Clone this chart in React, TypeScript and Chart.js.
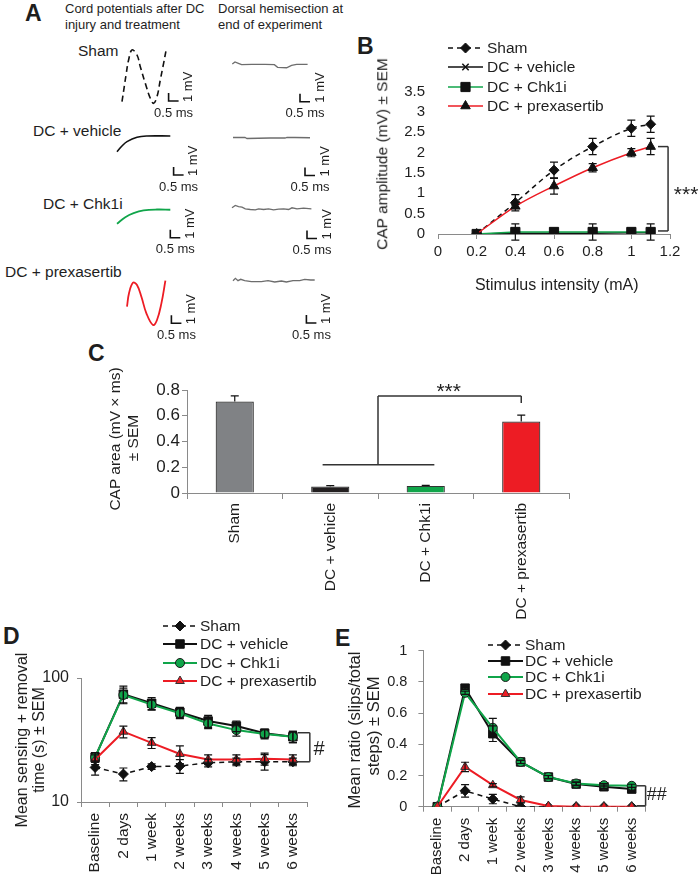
import React, { useEffect, useRef } from 'react';
import { Chart, registerables } from 'chart.js';
import { drawPoint } from 'chart.js/helpers';
Chart.register(...registerables);

const FONT = 'Arial, "Liberation Sans", Helvetica, sans-serif';
const GREEN = '#10a54a';
const RED = '#ed1c24';
const AXIS = '#8a8a8a';
const INK = '#1e1e1e';

// ---------- Panel A: cord potential traces (time in ms, potential in mV)
const shamT = [0, 0.215, 0.33, 0.5, 0.75, 0.915, 1.165, 1.415, 1.58, 1.75, 1.915, 2.08, 2.2];
const shamV = [0.16, 3.71, 5.38, 6.63, 6.0, 4.54, 2.46, 0.59, -0.04, 0.79, 2.88, 4.96, 6.54];
const vehicleT = [0, 0.25, 0.5, 1.0, 1.5, 2.665];
const vehicleV = [0.04, 0.75, 1.29, 1.84, 2.0, 2.0];
const chk1iT = [0, 0.415, 0.83, 1.33, 2.0, 2.665];
const chk1iV = [0.03, 0.85, 1.35, 1.69, 1.81, 1.78];
const prexT = [0, 0.1, 0.3, 0.5, 0.72, 0.97, 1.3, 1.5, 1.72, 1.92];
const prexV = [2.29, 3.96, 5.29, 5.0, 3.54, 1.46, 0, 0.63, 2.71, 5.54];
// dorsal hemisection traces
const hemiShamT = [0.015, 0.15, 0.32, 0.48, 0.98, 1.65, 2.12, 2.28, 2.73, 2.98, 3.23, 3.78];
const hemiShamV = [0.125, 0.375, 0.21, 0.04, 0.09, 0.09, 0.04, -0.29, -0.34, -0.04, 0.09, 0.09];
const hemiVehicleT = [0, 0.6, 0.7, 1.85, 2.6, 2.7, 3.1, 3.85];
const hemiVehicleV = [0.06, 0.06, -0.06, 0, 0, 0.09, 0.06, 0.03];
const hemiChk1iT = [0, 0.165, 0.33, 0.5, 0.665, 0.915, 1.165, 1.33, 1.58, 1.83, 2.08, 2.33, 2.58, 2.83, 3.0, 3.25, 3.58, 3.97];
const hemiChk1iV = [0.15, 0.44, 0.31, 0.225, 0.025, -0.06, -0.1, 0.025, -0.06, 0.025, -0.1, -0.025, 0.025, -0.06, 0.15, 0.025, 0.1, 0.025];
const hemiPrexT = [0, 0.12, 0.25, 0.385, 0.585, 0.92, 1.42, 1.75, 2.085, 2.42, 2.67, 3.0, 3.335, 3.585, 3.885, 4.085];
const hemiPrexV = [0.04, 0.34, 0.04, 0.21, 0.04, -0.09, -0.09, 0.04, -0.125, 0, -0.125, 0.04, 0.04, 0.21, 0.125, 0.125];

// ---------- Panel B: CAP amplitude vs stimulus intensity
const stimulus = [0.2, 0.4, 0.6, 0.8, 1.0, 1.1];
const bSham = [0, 0.77, 1.57, 2.15, 2.6, 2.7];
const bShamErr = [0, 0.2, 0.2, 0.2, 0.2, 0.2];
const bVehicle = [0, 0.02, 0.02, 0.02, 0.03, 0.03];
const bVehicleErr = [0, 0, 0, 0, 0, 0];
const bChk1i = [0, 0.05, 0.05, 0.05, 0.05, 0.05];
const bChk1iErr = [0, 0.2, 0.02, 0.2, 0.02, 0.2];
const bPrex = [0, 0.68, 1.18, 1.63, 2.0, 2.15];
const bPrexErr = [0, 0.05, 0.2, 0.1, 0.1, 0.2];

// ---------- Panel C: CAP area
const groups = ['Sham', 'DC + vehicle', 'DC + Chk1i', 'DC + prexasertib'];
const capArea = [0.71, 0.05, 0.055, 0.555];
const capAreaErr = [0.045, 0.008, 0.004, 0.05];
const capColors = ['#808285', '#231f20', GREEN, RED];

// ---------- Panels D & E: time course
const timepoints = ['Baseline', '2 days', '1 week', '2 weeks', '3 weeks', '4 weeks', '5 weeks', '6 weeks'];
const dSham = [19, 16.8, 19.3, 19.5, 20.7, 21.1, 21.1, 21.1];
const dShamErr = [2.5, 2, 1, 2.5, 1.5, 1.5, 3, 1.5];
const dVehicle = [23, 74, 62.5, 53, 45, 41, 35.8, 33.6];
const dVehicleErr = [2, 12, 7, 5, 5, 4, 3, 3.5];
const dChk1i = [23, 73, 61, 52, 43, 38, 35.3, 33.6];
const dChk1iErr = [2, 10, 6, 5, 4, 4, 3, 3.5];
const dPrex = [22, 36.9, 30, 24.4, 22, 22, 22.3, 22];
const dPrexErr = [2, 4, 3, 4, 2, 2, 2.5, 2];

const eSham = [0, 0.102, 0.049, 0, 0, 0, 0, 0];
const eShamErr = [0, 0.04, 0.03, 0, 0, 0, 0, 0];
const eVehicle = [0, 0.76, 0.468, 0.287, 0.19, 0.145, 0.128, 0.113];
const eVehicleErr = [0, 0.01, 0.05, 0.01, 0.01, 0.01, 0.01, 0.01];
const eChk1i = [0, 0.73, 0.506, 0.287, 0.19, 0.149, 0.138, 0.134];
const eChk1iErr = [0, 0.01, 0.06, 0.01, 0.01, 0.01, 0.01, 0.01];
const ePrex = [0, 0.255, 0.138, 0.043, 0.004, 0, 0, 0];
const ePrexErr = [0, 0.03, 0.01, 0.02, 0, 0, 0, 0];

const fmt = (v: any) => String(Math.round(Number(v) * 100) / 100);

// ---------------- plugins
const errorBarPlugin = (capHalf: number) => ({
  id: 'errbars',
  afterDatasetsDraw(chart: any) {
    const ctx = chart.ctx;
    const ys = chart.scales.y;
    ctx.save();
    ctx.strokeStyle = '#111';
    ctx.lineWidth = 1.2;
    chart.data.datasets.forEach((ds: any, di: number) => {
      if (!ds.errors) return;
      const meta = chart.getDatasetMeta(di);
      meta.data.forEach((el: any, i: number) => {
        const e = ds.errors[i];
        if (!e) return;
        const raw = ds.data[i];
        const v = typeof raw === 'number' ? raw : raw.y;
        const x = el.x;
        const yTop = ys.getPixelForValue(v + e);
        const yBot = ds.upperOnly ? ys.getPixelForValue(v) : ys.getPixelForValue(v - e);
        ctx.beginPath();
        ctx.moveTo(x, yTop);
        ctx.lineTo(x, yBot);
        ctx.moveTo(x - capHalf, yTop);
        ctx.lineTo(x + capHalf, yTop);
        if (!ds.upperOnly) {
          ctx.moveTo(x - capHalf, yBot);
          ctx.lineTo(x + capHalf, yBot);
        }
        ctx.stroke();
      });
    });
    ctx.restore();
  },
});

const legendPlugin = (x1: number, x2: number, textX: number, ys: number[], size: number) => ({
  id: 'customLegend',
  afterDraw(chart: any) {
    const ctx = chart.ctx;
    ctx.save();
    chart.data.datasets.forEach((ds: any, i: number) => {
      const y = ys[i];
      ctx.beginPath();
      ctx.setLineDash(ds.borderDash || []);
      ctx.strokeStyle = ds.borderColor;
      ctx.lineWidth = ds.borderWidth;
      ctx.moveTo(x1, y);
      ctx.lineTo(x2, y);
      ctx.stroke();
      ctx.setLineDash([]);
      ctx.fillStyle = ds.pointBackgroundColor;
      ctx.strokeStyle = ds.pointBorderColor;
      ctx.lineWidth = ds.pointBorderWidth ?? 1;
      drawPoint(ctx, { pointStyle: ds.pointStyle, radius: ds.pointRadius, borderWidth: ds.pointBorderWidth ?? 1, rotation: 0 } as any, (x1 + x2) / 2, y);
      ctx.fillStyle = INK;
      ctx.font = `${size}px ${FONT}`;
      ctx.textAlign = 'left';
      ctx.textBaseline = 'middle';
      ctx.fillText(ds.label, textX, y + 1);
    });
    ctx.restore();
  },
});

type AText = { x: number; y: number; text: string; size: number; dy?: number };
const annotPlugin = (lines: number[][], texts: AText[]) => ({
  id: 'annot',
  afterDraw(chart: any) {
    const xs = chart.scales.x;
    const ys = chart.scales.y;
    const ctx = chart.ctx;
    ctx.save();
    ctx.strokeStyle = '#333';
    ctx.lineWidth = 1.5;
    lines.forEach(([a, b, c, d]) => {
      ctx.beginPath();
      ctx.moveTo(xs.getPixelForValue(a), ys.getPixelForValue(b));
      ctx.lineTo(xs.getPixelForValue(c), ys.getPixelForValue(d));
      ctx.stroke();
    });
    texts.forEach((t) => {
      ctx.fillStyle = '#222';
      ctx.font = `${t.size}px ${FONT}`;
      ctx.textAlign = 'center';
      ctx.textBaseline = 'middle';
      ctx.fillText(t.text, xs.getPixelForValue(t.x), ys.getPixelForValue(t.y) + (t.dy || 0));
    });
    ctx.restore();
  },
});

const scaleBarPlugin = (tb: number, vb: number) => ({
  id: 'scalebar',
  afterDraw(chart: any) {
    const xs = chart.scales.x;
    const ys = chart.scales.y;
    const ctx = chart.ctx;
    const px0 = xs.getPixelForValue(tb);
    const px1 = xs.getPixelForValue(tb + 0.5);
    const py0 = ys.getPixelForValue(vb);
    const py1 = ys.getPixelForValue(vb + 1);
    ctx.save();
    ctx.strokeStyle = '#111';
    ctx.lineWidth = 1.6;
    ctx.beginPath();
    ctx.moveTo(px0, py1);
    ctx.lineTo(px0, py0);
    ctx.lineTo(px1, py0);
    ctx.stroke();
    ctx.fillStyle = INK;
    ctx.font = `13px ${FONT}`;
    ctx.textAlign = 'center';
    ctx.textBaseline = 'middle';
    ctx.fillText('0.5 ms', px0 + 5, py0 + 12);
    ctx.translate(px1 + 10, py0 + 1);
    ctx.rotate(-Math.PI / 2);
    ctx.textAlign = 'left';
    ctx.fillText('1 mV', 0, 0);
    ctx.restore();
  },
});

const baseOpts = {
  responsive: false,
  animation: false,
  devicePixelRatio: 1,
  events: [],
  plugins: { legend: { display: false }, tooltip: { enabled: false } },
};

// ---------------- Panel A specs (layout: origin & scale bar corner in page px)
const PX_MS = 20;
const PX_MV = 8;
type TraceSpec = { ox: number; oy: number; t: number[]; v: number[]; color: string; width: number; dash?: number[]; tension: number; bx: number; by: number };
const traceSpecs: TraceSpec[] = [
  { ox: 121.7, oy: 103, t: shamT, v: shamV, color: '#111', width: 1.6, dash: [6, 4], tension: 0.4, bx: 168.3, by: 101 },
  { ox: 116.7, oy: 152, t: vehicleT, v: vehicleV, color: '#111', width: 1.6, tension: 0.4, bx: 173.3, by: 175 },
  { ox: 116.7, oy: 223.5, t: chk1iT, v: chk1iV, color: GREEN, width: 1.8, tension: 0.4, bx: 170, by: 237.3 },
  { ox: 127.3, oy: 325, t: prexT, v: prexV, color: RED, width: 1.8, tension: 0.4, bx: 171.7, by: 323.3 },
  { ox: 232, oy: 65, t: hemiShamT, v: hemiShamV, color: '#6d6d6d', width: 1.3, tension: 0, bx: 300, by: 101.7 },
  { ox: 233, oy: 137.5, t: hemiVehicleT, v: hemiVehicleV, color: '#6d6d6d', width: 1.3, tension: 0, bx: 305, by: 175 },
  { ox: 231.7, oy: 208.5, t: hemiChk1iT, v: hemiChk1iV, color: '#6d6d6d', width: 1.3, tension: 0, bx: 306.7, by: 238 },
  { ox: 233.3, oy: 281, t: hemiPrexT, v: hemiPrexV, color: '#6d6d6d', width: 1.3, tension: 0, bx: 306.7, by: 323 },
];

function ChartBox({ left, top, width, height, make }: { left: number; top: number; width: number; height: number; make: () => any }) {
  const ref = useRef<HTMLCanvasElement>(null);
  useEffect(() => {
    const c = new Chart(ref.current as HTMLCanvasElement, make());
    return () => c.destroy();
  }, []);
  return <canvas ref={ref} width={width} height={height} style={{ position: 'absolute', left, top, width, height }} />;
}

function TraceChart({ spec }: { spec: TraceSpec }) {
  const W = 130, H = 125, L = 12, TOPV = 60;
  const make = () => ({
    type: 'line',
    data: {
      datasets: [
        {
          data: spec.t.map((x, i) => ({ x, y: spec.v[i] })),
          borderColor: spec.color,
          borderWidth: spec.width,
          borderDash: spec.dash || [],
          pointRadius: 0,
          tension: spec.tension,
          fill: false,
          clip: false,
        },
      ],
    },
    options: {
      ...baseOpts,
      layout: { padding: 0 },
      scales: {
        x: { type: 'linear', display: false, min: -L / PX_MS, max: (W - L) / PX_MS },
        y: { type: 'linear', display: false, min: -(H - TOPV) / PX_MV, max: TOPV / PX_MV },
      },
    },
    plugins: [scaleBarPlugin((spec.bx - spec.ox) / PX_MS, (spec.oy - spec.by) / PX_MV)],
  });
  return <ChartBox left={spec.ox - L} top={spec.oy - TOPV} width={W} height={H} make={make} />;
}

// ---------------- Panel B
const makeB = () => {
  const pts = (arr: number[]) => stimulus.map((x, i) => ({ x, y: arr[i] }));
  return {
    type: 'line',
    data: {
      datasets: [
        { label: 'Sham', data: pts(bSham), errors: bShamErr, borderColor: '#111', borderDash: [5, 4], borderWidth: 1.5, pointStyle: 'rectRot', pointRadius: 5, pointBackgroundColor: '#111', pointBorderColor: '#111', pointBorderWidth: 1, cubicInterpolationMode: 'monotone', order: 2 },
        { label: 'DC + vehicle', data: pts(bVehicle), errors: bVehicleErr, borderColor: '#111', borderWidth: 1.5, pointStyle: 'crossRot', pointRadius: 4.5, pointBackgroundColor: '#111', pointBorderColor: '#111', pointBorderWidth: 1.5, order: 4 },
        { label: 'DC + Chk1i', data: pts(bChk1i), errors: bChk1iErr, borderColor: GREEN, borderWidth: 1.5, pointStyle: 'rect', pointRadius: 6.5, pointBackgroundColor: '#111', pointBorderColor: '#111', pointBorderWidth: 1, order: 3 },
        { label: 'DC + prexasertib', data: pts(bPrex), errors: bPrexErr, borderColor: RED, borderWidth: 1.5, pointStyle: 'triangle', pointRadius: 5.5, pointBackgroundColor: '#111', pointBorderColor: '#111', pointBorderWidth: 1, cubicInterpolationMode: 'monotone', order: 1 },
      ],
    },
    options: {
      ...baseOpts,
      layout: { padding: { left: 0, right: 30, top: 61.7, bottom: 0 } },
      scales: {
        x: {
          type: 'linear', min: 0, max: 1.2,
          ticks: { stepSize: 0.2, autoSkip: false, callback: fmt, font: { family: FONT, size: 15 }, color: INK, padding: 4 },
          grid: { drawOnChartArea: false, drawTicks: true, tickLength: 5, color: AXIS },
          border: { color: AXIS, width: 1 },
          afterFit: (s: any) => { s.height = 66; },
        },
        y: {
          min: 0, max: 3.5,
          ticks: { stepSize: 0.5, autoSkip: false, callback: fmt, font: { family: FONT, size: 15 }, color: INK, padding: 13 },
          grid: { display: false, drawTicks: false },
          border: { display: false },
          afterFit: (s: any) => { s.width = 88; },
        },
      },
    },
    plugins: [
      errorBarPlugin(4),
      legendPlugin(98, 133, 137, [18, 37, 57, 76], 15.5),
      annotPlugin(
        [[1.19, 2.15, 1.19, 0.075], [1.138, 2.15, 1.19, 2.15], [1.138, 0.075, 1.19, 0.075]],
        [{ x: 1.283, y: 1.08, text: '***', size: 21, dy: 5 }]
      ),
    ],
  };
};

// ---------------- Panel C
const makeC = () => ({
  type: 'bar',
  data: {
    labels: groups,
    datasets: [
      { data: capArea, errors: capAreaErr, upperOnly: true, backgroundColor: capColors, borderColor: '#333', borderWidth: 1.2, barPercentage: 0.4, categoryPercentage: 1 },
    ],
  },
  options: {
    ...baseOpts,
    layout: { padding: { left: 0, right: 31, top: 50, bottom: 0 } },
    scales: {
      x: {
        offset: true,
        ticks: { minRotation: 90, maxRotation: 90, autoSkip: false, font: { family: FONT, size: 15.5 }, color: INK, padding: 4 },
        grid: { offset: true, drawOnChartArea: false, tickLength: 6, color: AXIS },
        border: { color: AXIS },
        afterFit: (s: any) => { s.height = 127; },
      },
      y: {
        min: 0, max: 0.8,
        ticks: { stepSize: 0.2, autoSkip: false, callback: fmt, font: { family: FONT, size: 17 }, color: INK, padding: 2 },
        grid: { drawOnChartArea: false, tickLength: 5, color: AXIS },
        border: { color: AXIS },
        afterFit: (s: any) => { s.width = 107; },
      },
    },
  },
  plugins: [
    errorBarPlugin(4),
    annotPlugin(
      [[0.92, 0.22, 2.09, 0.22], [1.5, 0.22, 1.5, 0.753], [1.5, 0.753, 3, 0.753], [3, 0.753, 3, 0.7]],
      [{ x: 2.24, y: 0.823, text: '***', size: 21, dy: 5 }]
    ),
  ],
});

// ---------------- Panels D and E shared dataset styling
const timeDatasets = (sham: number[], shamE: number[], veh: number[], vehE: number[], chk: number[], chkE: number[], prx: number[], prxE: number[]) => [
  { label: 'Sham', data: sham, errors: shamE, borderColor: '#111', borderDash: [5, 4], borderWidth: 1.5, pointStyle: 'rectRot', pointRadius: 5, pointBackgroundColor: '#111', pointBorderColor: '#111', pointBorderWidth: 1, order: 4 },
  { label: 'DC + vehicle', data: veh, errors: vehE, borderColor: '#111', borderWidth: 2, pointStyle: 'rect', pointRadius: 6, pointBackgroundColor: '#111', pointBorderColor: '#111', pointBorderWidth: 1, order: 3 },
  { label: 'DC + Chk1i', data: chk, errors: chkE, borderColor: GREEN, borderWidth: 2, pointStyle: 'circle', pointRadius: 4.5, pointBackgroundColor: GREEN, pointBorderColor: '#1a1a1a', pointBorderWidth: 1, order: 2 },
  { label: 'DC + prexasertib', data: prx, errors: prxE, borderColor: RED, borderWidth: 2, pointStyle: 'triangle', pointRadius: 5, pointBackgroundColor: RED, pointBorderColor: '#333', pointBorderWidth: 1, order: 1 },
];

const catX = (xHeight: number, fontSize: number) => ({
  type: 'category',
  offset: true,
  ticks: { minRotation: 90, maxRotation: 90, autoSkip: false, font: { family: FONT, size: fontSize }, color: INK, padding: 6 },
  grid: { offset: true, drawOnChartArea: false, tickLength: 5, color: AXIS },
  border: { color: AXIS },
  afterFit: (s: any) => { s.height = xHeight; },
});

const makeD = () => ({
  type: 'line',
  data: { labels: timepoints, datasets: timeDatasets(dSham, dShamErr, dVehicle, dVehicleErr, dChk1i, dChk1iErr, dPrex, dPrexErr) },
  options: {
    ...baseOpts,
    layout: { padding: { left: 0, right: 43, top: 68, bottom: 0 } },
    scales: {
      x: catX(76, 15.5),
      y: {
        type: 'logarithmic', min: 10, max: 100,
        afterBuildTicks: (s: any) => { s.ticks = [{ value: 10 }, { value: 100 }]; },
        ticks: { font: { family: FONT, size: 16 }, color: INK, padding: 8, callback: (v: any) => String(v) },
        grid: { drawOnChartArea: false, tickLength: 4, color: AXIS },
        border: { color: AXIS },
        afterFit: (s: any) => { s.width = 81; },
      },
    },
  },
  plugins: [
    errorBarPlugin(4),
    legendPlugin(163, 197, 200, [16, 34, 53, 71], 15.5),
    annotPlugin(
      [[7.6, 36.2, 7.6, 21.1], [7.18, 36.2, 7.6, 36.2], [7.18, 21.1, 7.6, 21.1]],
      [{ x: 7.93, y: 26.3, text: '#', size: 20 }]
    ),
  ],
});

const makeE = () => ({
  type: 'line',
  data: { labels: timepoints, datasets: timeDatasets(eSham, eShamErr, eVehicle, eVehicleErr, eChk1i, eChk1iErr, ePrex, ePrexErr) },
  options: {
    ...baseOpts,
    layout: { padding: { left: 0, right: 54.4, top: 30.7, bottom: 0 } },
    scales: {
      x: catX(71.3, 15),
      y: {
        min: 0, max: 1,
        ticks: { stepSize: 0.2, autoSkip: false, callback: fmt, font: { family: FONT, size: 14.5 }, color: INK, padding: 11 },
        grid: { drawOnChartArea: false, tickLength: 5, color: AXIS },
        border: { color: AXIS },
        afterFit: (s: any) => { s.width = 73.4; },
      },
    },
  },
  plugins: [
    errorBarPlugin(4),
    legendPlugin(138, 173, 175, [25, 41, 57, 74], 15.5),
    annotPlugin(
      [[7.5, 0.134, 7.5, 0.006], [7.17, 0.134, 7.5, 0.134], [7.17, 0.006, 7.5, 0.006]],
      [{ x: 7.9, y: 0.075, text: '##', size: 18 }]
    ),
  ],
});

// ---------------- HTML text helpers
function Txt({ x, y, size, children, bold, align }: { x: number; y: number; size: number; children: any; bold?: boolean; align?: string }) {
  const tx = align === 'center' ? '-50%' : align === 'right' ? '-100%' : '0';
  return (
    <div style={{ position: 'absolute', left: x, top: y, transform: `translate(${tx},-50%)`, fontSize: size, fontFamily: FONT, fontWeight: bold ? 700 : 400, whiteSpace: 'nowrap', lineHeight: 1, color: INK }}>
      {children}
    </div>
  );
}
function VTxt({ x, y, size, children }: { x: number; y: number; size: number; children: any }) {
  return (
    <div style={{ position: 'absolute', left: x, top: y, transform: 'translate(-50%,-50%) rotate(-90deg)', fontSize: size, fontFamily: FONT, whiteSpace: 'nowrap', lineHeight: 1, color: INK }}>
      {children}
    </div>
  );
}

export default function App() {
  return (
    <div style={{ position: 'absolute', left: 0, top: 0, width: 700, height: 878, background: '#fff', overflow: 'hidden' }}>
      {/* panel letters */}
      <Txt x={25} y={12.5} size={23} bold>A</Txt>
      <Txt x={357} y={46} size={23} bold>B</Txt>
      <Txt x={88} y={352.5} size={23} bold>C</Txt>
      <Txt x={3} y={636} size={23} bold>D</Txt>
      <Txt x={335} y={637.5} size={23} bold>E</Txt>

      {/* panel A texts */}
      <Txt x={65} y={8} size={13}>Cord potentials after DC</Txt>
      <Txt x={65} y={24} size={13}>injury and treatment</Txt>
      <Txt x={218} y={8} size={13}>Dorsal hemisection at</Txt>
      <Txt x={218} y={24} size={13}>end of experiment</Txt>
      <Txt x={78} y={51} size={15.5}>Sham</Txt>
      <Txt x={33} y={131} size={15.5}>DC + vehicle</Txt>
      <Txt x={43} y={204} size={15.5}>DC + Chk1i</Txt>
      <Txt x={5} y={272} size={15.5}>DC + prexasertib</Txt>
      {traceSpecs.map((s, i) => (
        <TraceChart key={i} spec={s} />
      ))}

      {/* panel B */}
      <ChartBox left={350} top={30} width={350} height={270} make={makeB} />
      <VTxt x={381.7} y={153.5} size={15.5}>CAP amplitude (mV) ± SEM</VTxt>
      <Txt x={556.7} y={285} size={16} align="center">Stimulus intensity (mA)</Txt>

      {/* panel C */}
      <ChartBox left={80} top={340} width={520} height={280} make={makeC} />
      <VTxt x={115} y={438.5} size={15.5}>CAP area (mV × ms)</VTxt>
      <VTxt x={133} y={437.5} size={15.5}>± SEM</VTxt>

      {/* panel D */}
      <ChartBox left={0} top={610} width={350} height={268} make={makeD} />
      <VTxt x={22} y={739.5} size={16}>Mean sensing + removal</VTxt>
      <VTxt x={39} y={740} size={16}>time (s) ± SEM</VTxt>

      {/* panel E */}
      <ChartBox left={350} top={620} width={350} height={258} make={makeE} />
      <VTxt x={354} y={730} size={16.5}>Mean ratio (slips/total</VTxt>
      <VTxt x={372.5} y={726} size={16.5}>steps) ± SEM</VTxt>
    </div>
  );
}
